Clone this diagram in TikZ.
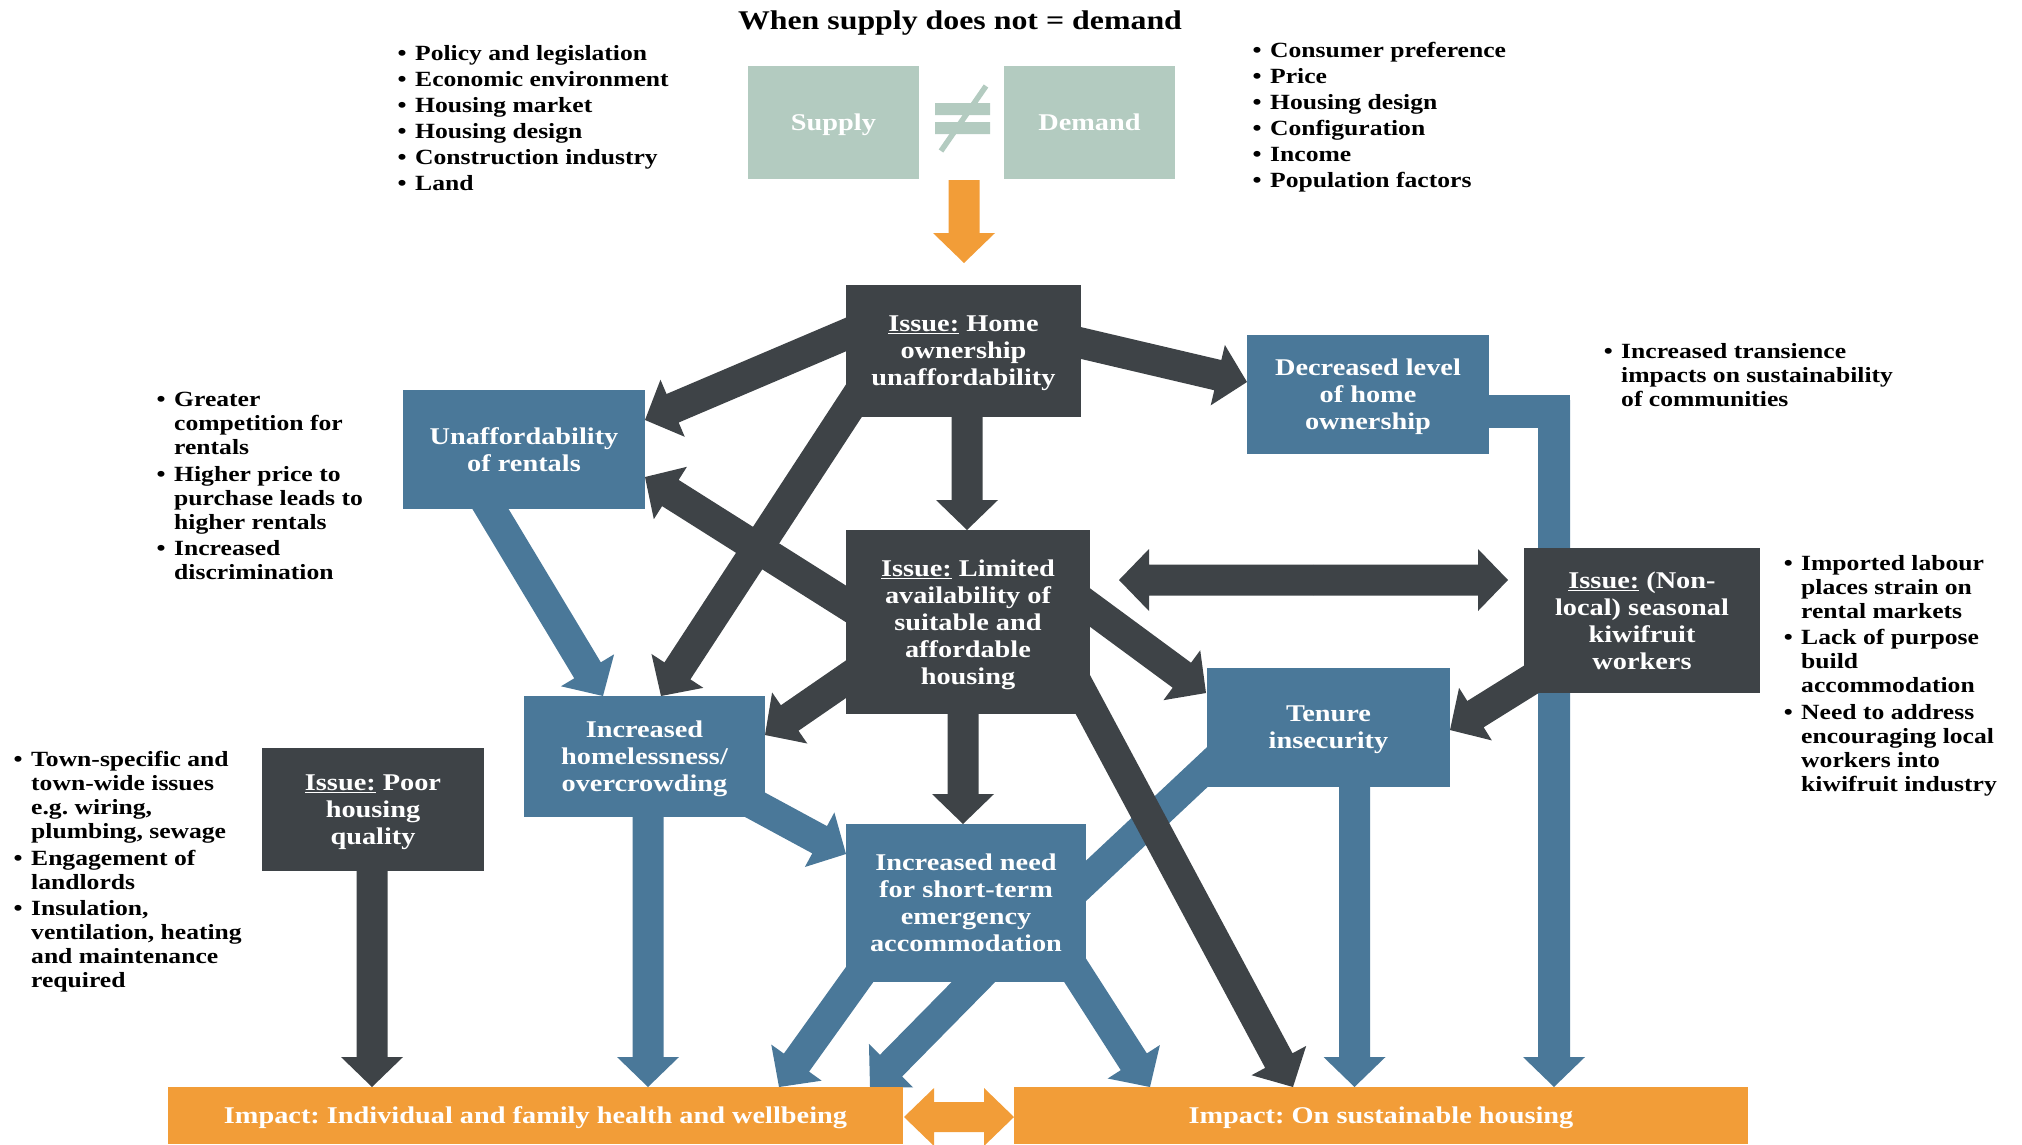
\documentclass[tikz,border=0pt]{standalone}
\usepackage{fontspec}
\setmainfont{Liberation Serif}[FakeStretch=1.18]
\usetikzlibrary{calc}

\definecolor{darkfill}{HTML}{3E4347}
\definecolor{bluefill}{HTML}{4A7899}
\definecolor{sagefill}{HTML}{B3CBC0}
\definecolor{orangefill}{HTML}{F29D38}

% block arrow geometry: shaft half width, head half width, head length
\newcommand{\BAshaft}{15.5pt}
\newcommand{\BAhead}{31pt}
\newcommand{\BAlen}{30pt}
% \blockarrow[fill options]{from}{to}: flat block arrow with a triangular head
\newcommand{\blockarrow}[3][]{%
  \path (#2) coordinate (ba-s) (#3) coordinate (ba-t);
  \path ($(ba-t)!\BAlen!(ba-s)$) coordinate (ba-h);
  \fill[#1] ($(ba-s)!\BAshaft!90:(ba-t)$) -- ($(ba-h)!\BAshaft!90:(ba-t)$)
    -- ($(ba-h)!\BAhead!90:(ba-t)$) -- (ba-t) -- ($(ba-h)!\BAhead!-90:(ba-t)$)
    -- ($(ba-h)!\BAshaft!-90:(ba-t)$) -- ($(ba-s)!\BAshaft!-90:(ba-t)$) -- cycle;
}
\newcommand{\bul}{\leavevmode\llap{\textbullet\hspace{8.5pt}}}
\newcommand{\boxfont}{\fontsize{24}{27}\selectfont\bfseries}
% last line of a box: descenders do not push the text block upwards
\newcommand{\lastline}[1]{\raisebox{0pt}[\height][0pt]{#1}}

\pgfdeclarelayer{arrows}
\pgfsetlayers{arrows,main}

\tikzset{
  panel/.style={inner sep=0pt, text=white, align=center, font=\boxfont},
  issuebox/.style={panel, fill=darkfill},
  effectbox/.style={panel, fill=bluefill},
  impactbox/.style={panel, fill=orangefill},
  sdbox/.style={panel, fill=sagefill},
  listtext/.style={inner sep=0pt, anchor=north west, align=left,
    font=\fontsize{21.7}{24}\selectfont\bfseries},
  toplist/.style={listtext, font=\fontsize{21.7}{26}\selectfont\bfseries},
}

\begin{document}
\frenchspacing
\begin{tikzpicture}[x=1pt,y=-1pt]
\path[use as bounding box,clip] (0,0) rectangle (2022,1144);

% ---- title and supply / demand ----
\node[anchor=base, font=\fontsize{27}{30}\selectfont\bfseries] (title) at (960,29)
  {When supply does not = demand};
\node[sdbox, minimum width=171pt, minimum height=113pt] (supply) at (833.5,122.5) {\lastline{Supply}};
\node[sdbox, minimum width=171pt, minimum height=113pt] (demand) at (1089.5,122.5) {Demand};
\fill[sagefill] (935,103) rectangle (990,115) (935,122) rectangle (990,134);
\draw[sagefill, line width=5.5pt] (986,86) -- (941,151);

\node[toplist] (supplylist) at (415,45) {%
  \bul Policy and legislation\\ \bul Economic environment\\ \bul Housing market\\
  \bul Housing design\\ \bul Construction industry\\ \bul Land};
\node[toplist] (demandlist) at (1270,42.5) {%
  \bul Consumer preference\\ \bul Price\\ \bul Housing design\\
  \bul Configuration\\ \bul Income\\ \bul Population factors};

% ---- issue and effect boxes ----
\node[issuebox, minimum width=235pt, minimum height=132pt] (home) at (963.5,351)
  {\underline{Issue:} Home\\ownership\\\lastline{unaffordability}};
\node[effectbox, minimum width=242pt, minimum height=119pt] (rentals) at (524,449.5)
  {Unaffordability\\of rentals};
\node[effectbox, minimum width=242pt, minimum height=119pt] (decreased) at (1368,394.5)
  {Decreased level\\of home\\\lastline{ownership}};
\node[issuebox, minimum width=244pt, minimum height=184pt] (limited) at (968,622)
  {\underline{Issue:} Limited\\availability of\\suitable and\\affordable\\\lastline{housing}};
\node[issuebox, minimum width=236pt, minimum height=145pt] (kiwi) at (1642,620.5)
  {\underline{Issue:} (Non-\\local) seasonal\\kiwifruit\\workers};
\node[effectbox, minimum width=243pt, minimum height=119pt] (tenure) at (1328.5,727.5)
  {Tenure\\\lastline{insecurity}};
\node[effectbox, minimum width=241pt, minimum height=121pt] (homeless) at (644.5,756.5)
  {Increased\\homelessness/\\\lastline{overcrowding}};
\node[issuebox, minimum width=222pt, minimum height=123pt] (poor) at (373,809.5)
  {\underline{Issue:} Poor\\housing\\\lastline{quality}};
\node[effectbox, minimum width=240pt, minimum height=158pt] (emergency) at (966,903)
  {Increased need\\for short-term\\emergency\\accommodation};
\node[impactbox, minimum width=735pt, minimum height=57pt] (impactL) at (535.5,1115.5)
  {\lastline{Impact: Individual and family health and wellbeing}};
\node[impactbox, minimum width=734pt, minimum height=57pt] (impactR) at (1381,1115.5)
  {\lastline{Impact: On sustainable housing}};

% ---- side notes ----
\node[listtext] (rentnotes) at (174,392) {%
  \bul Greater\\competition for\\rentals\\[2.6pt]
  \bul Higher price to\\purchase leads to\\higher rentals\\[2.6pt]
  \bul Increased\\discrimination};
\node[listtext] (ownnotes) at (1621,343) {%
  \bul Increased transience\\impacts on sustainability\\of communities};
\node[listtext] (kiwinotes) at (1801,555) {%
  \bul Imported labour\\places strain on\\rental markets\\[2.6pt]
  \bul Lack of purpose\\build\\accommodation\\[2.6pt]
  \bul Need to address\\encouraging local\\workers into\\kiwifruit industry};
\node[listtext] (poornotes) at (31,751) {%
  \bul Town-specific and\\town-wide issues\\e.g. wiring,\\plumbing, sewage\\[2.6pt]
  \bul Engagement of\\landlords\\[2.6pt]
  \bul Insulation,\\ventilation, heating\\and maintenance\\required};

% ---- connector end points ----
\coordinate (sd-out) at (964,180);
\coordinate (home-in) at (964,263);
\coordinate (home-o1) at (880,320);   \coordinate (rentals-in1) at (645,420);
\coordinate (home-o2) at (1000,324);  \coordinate (decreased-in) at (1247,382);
\coordinate (home-o3) at (967,350);   \coordinate (limited-in) at (967,530);
\coordinate (home-o4) at (887,350);   \coordinate (homeless-in1) at (661,696);
\coordinate (rentals-out) at (455,450); \coordinate (homeless-in2) at (603,696);
\coordinate (limited-o1) at (900,638);  \coordinate (rentals-in2) at (645,477);
\coordinate (limited-o2) at (900,642);  \coordinate (homeless-in3) at (765,735);
\coordinate (limited-o3) at (963,620);  \coordinate (emergency-in1) at (963,824);
\coordinate (limited-o4) at (1020,556); \coordinate (tenure-in1) at (1206,693);
\coordinate (limited-o5) at (1059,650); \coordinate (impactR-in1) at (1293,1087);
\coordinate (lk-mid) at (1313,580);
\coordinate (limited-side) at (1119,580); \coordinate (kiwi-side) at (1508,580);
\coordinate (kiwi-out) at (1580,649);   \coordinate (tenure-in2) at (1450,730);
\coordinate (decreased-bend) at (1554,400); \coordinate (impactR-in2) at (1554,1087);
\coordinate (tenure-out) at (1354.5,730); \coordinate (impactR-in3) at (1354.5,1087);
\coordinate (tenure-link) at (1250,727); \coordinate (emergency-link) at (1040,924);
\coordinate (homeless-o1) at (700,775); \coordinate (emergency-in2) at (846,854);
\coordinate (homeless-o2) at (648,760); \coordinate (impactL-in1) at (648,1087);
\coordinate (poor-out) at (372,810);    \coordinate (impactL-in2) at (372,1087);
\coordinate (emergency-o1) at (913,900);  \coordinate (impactL-in3) at (779,1087);
\coordinate (emergency-o2) at (1000,955); \coordinate (impactL-in4) at (870,1087);
\coordinate (emergency-o3) at (1030,900); \coordinate (impactR-in4) at (1150,1087);
\coordinate (impact-mid) at (959,1117);
\coordinate (impactL-side) at (904,1117); \coordinate (impactR-side) at (1014,1117);

% ---- connectors (behind the boxes) ----
\begin{pgfonlayer}{arrows}
  % orange
  \blockarrow[fill=orangefill]{sd-out}{home-in}
  {\renewcommand{\BAshaft}{15pt}\renewcommand{\BAhead}{29pt}%
   \blockarrow[fill=orangefill]{impact-mid}{impactL-side}
   \blockarrow[fill=orangefill]{impact-mid}{impactR-side}}
  % blue
  \draw[bluefill, line width=29.5pt] (emergency-link) -- (tenure-link);
  \fill[bluefill] (decreased.east |- 0,395) rectangle (1570,428);
  {\renewcommand{\BAshaft}{16pt}\blockarrow[fill=bluefill]{decreased-bend}{impactR-in2}}
  \blockarrow[fill=bluefill]{rentals-out}{homeless-in2}
  \blockarrow[fill=bluefill]{tenure-out}{impactR-in3}
  \blockarrow[fill=bluefill]{homeless-o1}{emergency-in2}
  \blockarrow[fill=bluefill]{homeless-o2}{impactL-in1}
  \blockarrow[fill=bluefill]{emergency-o1}{impactL-in3}
  \blockarrow[fill=bluefill]{emergency-o2}{impactL-in4}
  \blockarrow[fill=bluefill]{emergency-o3}{impactR-in4}
  % dark
  \blockarrow[fill=darkfill]{home-o1}{rentals-in1}
  \blockarrow[fill=darkfill]{home-o2}{decreased-in}
  \blockarrow[fill=darkfill]{home-o3}{limited-in}
  \blockarrow[fill=darkfill]{home-o4}{homeless-in1}
  \blockarrow[fill=darkfill]{limited-o1}{rentals-in2}
  \blockarrow[fill=darkfill]{limited-o2}{homeless-in3}
  \blockarrow[fill=darkfill]{limited-o3}{emergency-in1}
  \blockarrow[fill=darkfill]{limited-o4}{tenure-in1}
  \blockarrow[fill=darkfill]{limited-o5}{impactR-in1}
  \blockarrow[fill=darkfill]{lk-mid}{limited-side}
  \blockarrow[fill=darkfill]{lk-mid}{kiwi-side}
  \blockarrow[fill=darkfill]{kiwi-out}{tenure-in2}
  \blockarrow[fill=darkfill]{poor-out}{impactL-in2}
\end{pgfonlayer}
\end{tikzpicture}
\end{document}
